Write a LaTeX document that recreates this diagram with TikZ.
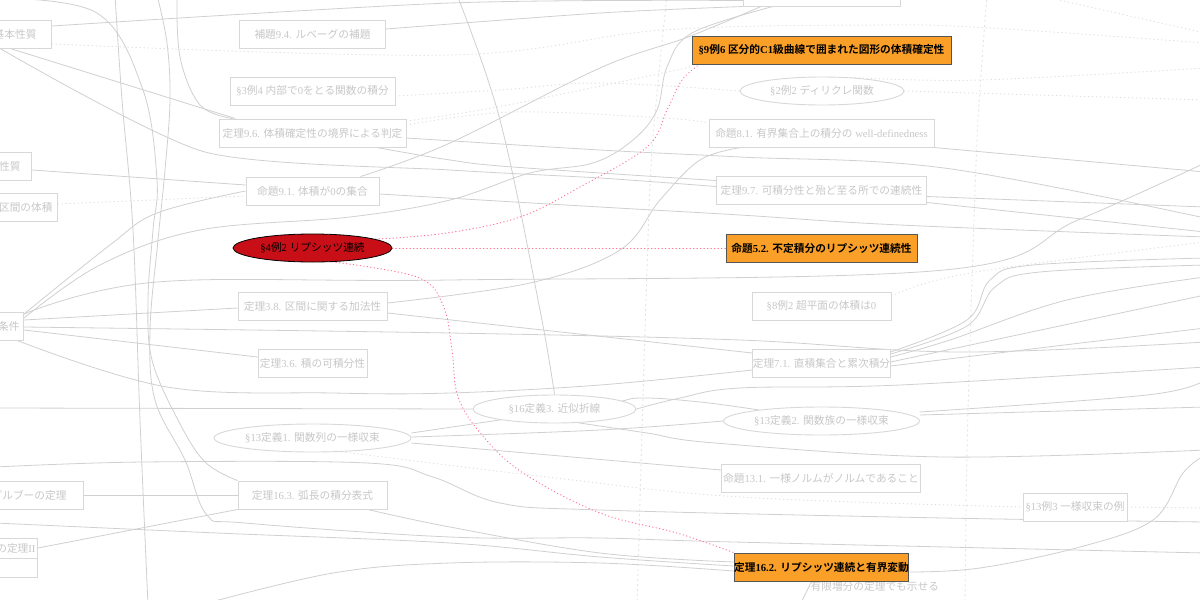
\documentclass[tikz,border=0pt]{standalone}
\usepackage{fontspec}
\usetikzlibrary{shapes.geometric}
\setmainfont{Liberation Serif}
\newfontfamily\jpfont{Noto Sans CJK JP}[BoldFont={Noto Sans CJK JP Bold}]
\newfontfamily\lafont{Liberation Serif}
\XeTeXinterchartokenstate=1
\newXeTeXintercharclass\cjkcls
\newcount\jpc
\jpc="3000
\loop \XeTeXcharclass\jpc=\cjkcls \advance\jpc by 1 \ifnum\jpc<"3100 \repeat
\jpc="4E00
\loop \XeTeXcharclass\jpc=\cjkcls \advance\jpc by 1 \ifnum\jpc<"A000 \repeat
\jpc="FF00
\loop \XeTeXcharclass\jpc=\cjkcls \advance\jpc by 1 \ifnum\jpc<"FFF0 \repeat
\XeTeXinterchartoks 0 \cjkcls = {\jpfont}
\XeTeXinterchartoks 4095 \cjkcls = {\jpfont}
\XeTeXinterchartoks \cjkcls 0 = {\lafont}
\XeTeXinterchartoks \cjkcls 4095 = {\lafont}
\newcommand\ndfont{\fontsize{10.7pt}{13pt}\selectfont}
\pgfdeclarelayer{bg}
\pgfsetlayers{bg,main}
\definecolor{fbd}{RGB}{216,216,216}
\definecolor{ftx}{RGB}{200,200,200}
\definecolor{fln}{RGB}{208,208,208}
\definecolor{fdt}{RGB}{222,222,222}
\definecolor{vsp}{RGB}{228,228,228}
\definecolor{orng}{RGB}{250,160,40}
\definecolor{hbd}{RGB}{85,85,85}
\definecolor{redf}{RGB}{200,14,22}
\definecolor{pnk}{RGB}{255,115,145}
\begin{document}
\begin{tikzpicture}[x=1pt,y=-1pt,
  fbox/.style={draw=fbd, line width=0.9pt, fill=white, text=ftx, font=\ndfont,
    minimum height=28pt, inner sep=0pt},
  fell/.style={fbox, ellipse},
  hbox/.style={draw=hbd, fill=orng, line width=1pt, text=black, font=\ndfont\bfseries,
    minimum height=28pt, inner sep=0pt},
  redell/.style={ellipse, draw=black, fill=redf, line width=0.8pt, text=black,
    font=\ndfont, minimum height=28pt, inner sep=0pt},
  flabel/.style={text=ftx, font=\ndfont, inner sep=1pt},
  edge/.style={draw=fln, line width=0.8pt},
  dedge/.style={draw=fdt, line width=1pt, line cap=round, dash pattern=on 0.5pt off 3.5pt},
  hl/.style={draw=pnk, line width=1pt, line cap=round, dash pattern=on 0.5pt off 3pt},
  vsep/.style={draw=vsp, line width=0.9pt, dash pattern=on 2pt off 3pt}]
\useasboundingbox (0,0) rectangle (1200,600);

% ---------- partial nodes on the left ----------
\node[fbox, anchor=east, inner xsep=15pt] (kihon) at (52,34) {基本性質};
\node[fbox, anchor=east, inner xsep=11pt] (seishitsu) at (32,166) {性質};
\node[fbox, anchor=east, inner xsep=5pt] (kukan) at (58,207) {区間の体積};
\node[fbox, anchor=east, inner xsep=4pt] (joken) at (24,326) {条件};
\node[fbox, anchor=east, inner xsep=17pt] (darboux) at (84,495) {ダルブーの定理};
\node[fbox, anchor=east, inner xsep=2pt, minimum height=20pt] (teiriII) at (38,548) {の定理II};
\node[fbox, anchor=north east, minimum width=60pt, minimum height=19pt] (teiriIIb) at (teiriII.south east) {};

% ---------- left column ----------
\node[fbox, minimum width=146pt] (hodai94) at (312.5,34) {補題9.4. ルベーグの補題};
\node[fbox, minimum width=165pt] (rei34) at (312.5,91) {§3例4 内部で0をとる関数の積分};
\node[fbox, minimum width=187pt] (teiri96) at (312.5,133) {定理9.6. 体積確定性の境界による判定};
\node[fbox, minimum width=133pt] (mei91) at (312.5,191) {命題9.1. 体積が0の集合};
\node[redell, minimum width=159pt] (lip) at (312.5,248) {§4例2 リプシッツ連続};
\node[fbox, minimum width=149pt] (teiri38) at (312.5,306) {定理3.8. 区間に関する加法性};
\node[fbox, minimum width=109pt] (teiri36) at (312.5,363) {定理3.6. 積の可積分性};
\node[fell, minimum width=197pt] (teigi131) at (312.5,438) {§13定義1. 関数列の一様収束};
\node[fbox, minimum width=149pt] (teiri163) at (312.5,495) {定理16.3. 弧長の積分表式};
\node[fell, minimum width=163pt] (teigi163) at (554.5,409) {§16定義3. 近似折線};

% ---------- right column ----------
\node[fbox, minimum width=157pt] (topbox) at (822,-8) {};
\node[hbox, minimum width=259pt] (rei96) at (821.5,50) {§9例6 区分的C1級曲線で囲まれた図形の体積確定性};
\node[fell, minimum width=164pt] (rei22) at (822,91) {§2例2 ディリクレ関数};
\node[fbox, minimum width=225pt] (mei81) at (821.5,133) {命題8.1. 有界集合上の積分の well-definedness};
\node[fbox, minimum width=210pt] (teiri97) at (821.5,190.5) {定理9.7. 可積分性と殆ど至る所での連続性};
\node[hbox, minimum width=191pt] (mei52) at (821.5,248) {命題5.2. 不定積分のリプシッツ連続性};
\node[fbox, minimum width=139pt] (rei82) at (821.5,306) {§8例2 超平面の体積は0};
\node[fbox, minimum width=137pt] (teiri71) at (821.5,363) {定理7.1. 直積集合と累次積分};
\node[fell, minimum width=196pt] (teigi132) at (821.5,421) {§13定義2. 関数族の一様収束};
\node[fbox, minimum width=199pt] (mei131) at (821,478) {命題13.1. 一様ノルムがノルムであること};
\node[fbox, minimum width=104pt] (rei133) at (1075,507) {§13例3 一様収束の例};
\node[hbox, minimum width=171pt] (teiri162) at (821.5,567) {定理16.2. リプシッツ連続と有界変動};

% ---------- free ends (nodes outside the view) ----------
\coordinate (tA) at (115,-5);   \coordinate (bA) at (148,605);
\coordinate (tB) at (-5,-2);    \coordinate (tC) at (157,-5);
\coordinate (tD) at (177,-5);   \coordinate (tE) at (457,-5);
\coordinate (tF) at (1037,-5);
\coordinate (lH) at (-5,408);   \coordinate (lI) at (-5,467);
\coordinate (lJ) at (-5,523);
\coordinate (bK) at (200,605);  \coordinate (bL) at (800,605);
\coordinate (rA) at (1205,172); \coordinate (rB) at (1205,218);
\coordinate (rC) at (1205,207); \coordinate (rD) at (1205,232);
\coordinate (rE) at (1205,237); \coordinate (rF) at (1205,163);
\coordinate (rG) at (1205,342); \coordinate (rH) at (1205,258);
\coordinate (rI) at (1205,265); \coordinate (rJ) at (1205,277);
\coordinate (rK) at (1205,295); \coordinate (rL) at (1205,328);
\coordinate (rM) at (1205,367); \coordinate (rN) at (1205,450);
\coordinate (rO) at (1205,407); \coordinate (rP) at (1205,380);
\coordinate (rQ) at (1205,522); \coordinate (rR) at (1205,553);
\coordinate (rS) at (1205,455);
\coordinate (rT) at (1205,43);  \coordinate (rU) at (1205,100);
\coordinate (rV) at (1205,68);  \coordinate (rW) at (1205,33);
\coordinate (rX) at (1205,242); \coordinate (rY) at (1205,508);

\begin{pgfonlayer}{bg}
\fill[white] (0,0) rectangle (1200,600);
% rank separators
\draw[vsep] plot[smooth] coordinates {(667,-5) (652,150) (646,300) (640,500) (637,605)};
\draw[vsep] plot[smooth] coordinates {(987,-5) (978,120) (973,250) (967,450) (965,605)};

% ---------- faded solid edges ----------
\draw[edge] plot[smooth, tension=0.5] coordinates {([yshift=8pt]kihon.east) (450,3) ([yshift=6pt]topbox.south west)};
\draw[edge] plot[smooth, tension=0.5] coordinates {([yshift=5pt]hodai94.east) (600,13) ([xshift=2pt]topbox.south west)};
\draw[edge] plot[smooth, tension=0.6] coordinates {([xshift=-19pt]mei91.north east) (450,143) (600,68) (688,37) ([xshift=18pt]topbox.south west)};
\draw[edge] plot[smooth, tension=0.6] coordinates {([yshift=8pt]joken.east) (100,265) (200,230) (350,217) (450,200) (530,173) (593,163) (633,140) (657,110) (667,67) (692,33) ([xshift=30pt]topbox.south west)};
\draw[edge] plot[smooth, tension=0.6] coordinates {([yshift=12pt]joken.east) (110,245) (157,213) (mei91.west)};
\draw[edge] plot[smooth, tension=0.6] coordinates {(tA) (122,100) (133,230) (140,420) (bA)};
\draw[edge] plot[smooth, tension=0.6] coordinates {(tB) (97,13) (143,90) (157,180) (153,230) (148,300) (152,360) (178,420) (205,462) (teiri163.north west)};
\draw[edge] plot[smooth, tension=0.6] coordinates {(tC) (167,43) (170,100) (165,170) (158,240) (150,330) (155,400) (185,460) (207,515) (245,523) (450,537) (600,538) (734,542) (rR)};
\draw[edge] plot[smooth, tension=0.6] coordinates {([xshift=-20pt]teiri163.south east) (450,527) (600,553) ([yshift=5pt]teiri162.west)};
\draw[edge] plot[smooth, tension=0.6] coordinates {(lJ) (217,533) (450,543) (600,557) ([yshift=1pt]teiri162.west)};
\draw[edge] plot[smooth, tension=0.6] coordinates {(bK) (333,573) (450,563) (600,563) ([yshift=-4pt]teiri162.west)};
\draw[edge] plot[smooth, tension=0.6] coordinates {(lI) (143,462) (367,463) (433,477) (500,503) (600,510) (944,518) (rQ)};
\draw[edge] (darboux.east) -- (teiri163.west);
\draw[edge] (teiriII.east) -- (teiri163.south west);
\draw[edge] ([yshift=-4pt]seishitsu.east) -- ([yshift=6pt]mei91.west);
\draw[edge] ([xshift=-42pt]kihon.south east) -- ([xshift=17pt]teiri96.north west);
\draw[edge] plot[smooth, tension=0.4] coordinates {([xshift=-52pt]kihon.south east) (205,152) (450,170) (600,178) ([yshift=4pt]teiri97.west)};
\draw[edge] plot[smooth, tension=0.6] coordinates {(tD) (180,57) (200,105) ([xshift=14pt]teiri96.north west)};
\draw[edge] plot[smooth, tension=0.6] coordinates {([xshift=-30pt]teiri96.south east) (450,160) (513,167) ([yshift=10pt]teiri97.west)};
\draw[edge] plot[smooth, tension=0.6] coordinates {([yshift=-5pt]teiri96.east) (600,150) (740,157) (944,168) (rB)};
\draw[edge] plot[smooth, tension=0.6] coordinates {([yshift=-3pt]mei91.east) (600,207) (740,215) (900,225) (rE)};
\draw[edge] ([yshift=-6pt]teiri97.east) -- (rC);
\draw[edge] ([yshift=-12pt]teiri97.east) -- (rD);
\draw[edge] ([xshift=-1pt]mei81.south east) -- (rA);
\draw[edge] plot[smooth, tension=0.6] coordinates {([yshift=3pt]teiri38.east) (530,283) (620,250) (660,200) (700,160) ([xshift=33pt]mei81.south west)};
\draw[edge] plot[smooth, tension=0.6] coordinates {([yshift=12pt]joken.east) (157,282) (450,280) (944,270) (1078,220) (rF)};
\draw[edge] ([yshift=6pt]joken.east) -- ([yshift=-2pt]teiri38.west);
\draw[edge] plot[smooth, tension=0.6] coordinates {([yshift=-1pt]joken.east) (450,333) (740,340) (960,352) (rG)};
\draw[edge] ([yshift=-4pt]joken.east) -- ([yshift=6pt]teiri36.west);
\draw[edge] plot[smooth, tension=0.6] coordinates {([xshift=-7pt]joken.south east) (167,387) (333,393) (450,393) (600,385) ([yshift=-7pt]teiri71.west)};
\draw[edge] ([yshift=-7pt]teiri38.east) -- ([yshift=10pt]teiri71.west);
\draw[edge] plot[smooth, tension=0.6] coordinates {([yshift=11pt]teiri71.east) (967,320) (990,280) (1033,265) (rH)};
\draw[edge] plot[smooth, tension=0.6] coordinates {([yshift=9pt]teiri71.east) (967,326) (995,287) (1040,272) (rI)};
\draw[edge] plot[smooth, tension=0.6] coordinates {([yshift=6pt]teiri71.east) (950,340) (1067,300) (rJ)};
\draw[edge] ([yshift=1pt]teiri71.east) -- (rK);
\draw[edge] ([yshift=-3pt]teiri71.east) -- (rL);
\draw[edge] plot[smooth, tension=0.6] coordinates {(tE) (500,120) (540,310) (teigi163.north)};
\draw[edge] (lH) -- (teigi163.west);
\draw[edge] plot[smooth, tension=0.6] coordinates {(teigi163.east) (680,398) (740,388) (900,385) (rM)};
\draw[edge] plot[smooth, tension=0.6] coordinates {(teigi163.-30) (647,433) (715,443) (944,457) (rN)};
\draw[edge] plot[smooth, tension=0.6] coordinates {([yshift=1pt]teigi131.east) (600,430) (teigi132.west)};
\draw[edge] ([yshift=-5pt]teigi131.east) -- ([yshift=8pt]mei131.west);
\draw[edge] plot[smooth, tension=0.6] coordinates {([yshift=5pt]teigi131.east) (600,405) (640,398) (700,402) (teigi132.170)};
\draw[edge] ([yshift=6pt]teigi132.east) -- (rO);
\draw[edge] plot[smooth, tension=0.6] coordinates {([yshift=9pt]teigi132.east) (1147,395) (rP)};
\draw[edge] plot[smooth, tension=0.6] coordinates {([yshift=-5pt]teiri162.east) (980,568) (1080,547) (1153,520) (1183,473) (rS)};
\draw[edge] ([xshift=-10pt]teiri162.south) -- (bL)
  node[flabel, pos=0.2, anchor=west] (lbl) {有限増分の定理でも示せる};

% ---------- faded dotted edges ----------
\draw[dedge] plot[smooth, tension=0.6] coordinates {([yshift=-10pt]kihon.east) (450,55) (663,30) (880,25) (990,28) (rT)};
\draw[dedge] plot[smooth, tension=0.6] coordinates {([yshift=-5pt]rei34.east) (500,90) (600,83) (rei22.west)};
\draw[dedge] plot[smooth, tension=0.6] coordinates {([yshift=12pt]teiri96.east) (497,107) (663,73) ([yshift=-2pt]rei96.south west)};
\draw[dedge] plot[smooth, tension=0.6] coordinates {([yshift=8pt]teiri96.east) (513,112) (663,118) ([yshift=10pt]mei81.west)};
\draw[dedge] (rei22.east) -- (rU);
\draw[dedge] plot[smooth, tension=0.6] coordinates {(rei22.25) (980,80) (rV)};
\draw[dedge] (tF) -- (rW);
\draw[dedge] ([yshift=3pt]kukan.east) -- ([yshift=-5pt]mei91.west);
\draw[dedge] plot[smooth, tension=0.6] coordinates {([yshift=10pt]rei82.east) (970,273) (rX)};
\draw[dedge] plot[smooth, tension=0.6] coordinates {(teigi131.-25) (547,477) (740,497) (rei133.west)};
\draw[dedge] (rei133.east) -- (rY);

% ---------- highlighted edges ----------
\draw[hl] (lip.east) -- (mei52.west);
\draw[hl] plot[smooth, tension=0.6] coordinates {(lip.8) (447,233) (520,217) (580,187) (647,147) (667,110) (682,80) ([xshift=8pt]rei96.south west)};
\draw[hl] plot[smooth, tension=0.6] coordinates {(lip.-35) (417,277) (443,305) (452,350) (458,397) (482,435) (523,473) (600,513) (677,533) (teiri162.north west)};
\end{pgfonlayer}
\end{tikzpicture}
\end{document}
